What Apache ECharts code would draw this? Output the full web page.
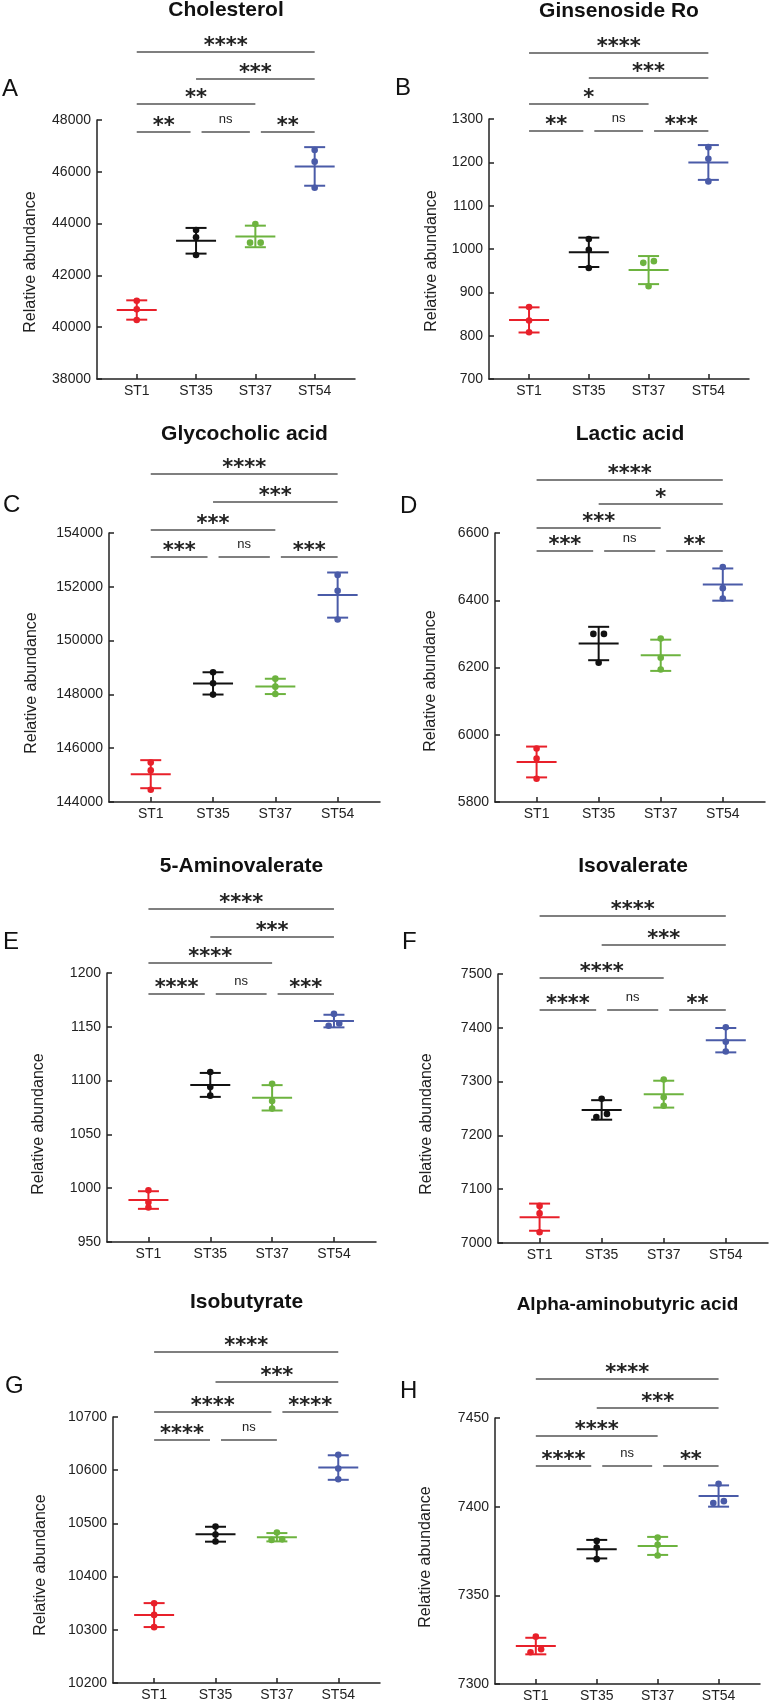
<!DOCTYPE html>
<html><head><meta charset="utf-8">
<script src="https://cdn.jsdelivr.net/npm/echarts@6/dist/echarts.min.js"></script>
<style>html,body{margin:0;padding:0;background:#fff}#c{width:770px;height:1703px}</style>
</head><body><div id="c"></div>
<script>
// ---------------- DATA ----------------
const groups = ['ST1', 'ST35', 'ST37', 'ST54'];
const titles = ['Cholesterol', 'Ginsenoside Ro', 'Glycocholic acid', 'Lactic acid',
                '5-Aminovalerate', 'Isovalerate', 'Isobutyrate', 'Alpha-aminobutyric acid'];
const panelLetters = ['A', 'B', 'C', 'D', 'E', 'F', 'G', 'H'];
const yAxisName = 'Relative abundance';
const yMin  = [38000, 700, 144000, 5800, 950, 7000, 10200, 7300];
const yMax  = [48000, 1300, 154000, 6600, 1200, 7500, 10700, 7450];
const yStep = [2000, 100, 2000, 200, 50, 100, 100, 50];

// three replicates per group: ST1, ST35, ST37, ST54
const cholesterol     = [[41024, 40690, 40278], [43753, 43470, 42788], [43985, 43264, 43264], [46842, 46392, 45387]];
const ginsenosideRo   = [[866, 835, 808], [1023, 998, 956], [972, 968, 914], [1235, 1208, 1156]];
const glycocholicAcid = [[145471, 145174, 144457], [148821, 148413, 147993], [148586, 148289, 148017], [152442, 151849, 150786]];
const lacticAcid      = [[5959, 5929, 5869], [6300, 6300, 6214], [6286, 6229, 6194], [6499, 6436, 6405]];
const aminovalerate   = [[998, 987, 982], [1108, 1094, 1086], [1097, 1081, 1074], [1162, 1151, 1153]];
const isovalerate     = [[7069, 7055, 7020], [7268, 7234, 7240], [7304, 7271, 7255], [7401, 7374, 7356]];
const isobutyrate     = [[10350, 10328, 10305], [10494, 10479, 10466], [10483, 10469, 10470], [10629, 10603, 10583]];
const aminobutyric    = [[7326.7, 7317.9, 7319.6], [7380.7, 7377.0, 7370.4], [7382.6, 7378.5, 7372.5], [7412.9, 7402.0, 7403.1]];
const panelValues = [cholesterol, ginsenosideRo, glycocholicAcid, lacticAcid, aminovalerate, isovalerate, isobutyrate, aminobutyric];

// significance comparisons: [groupFrom, groupTo, row, label]
const sigA = [[1,2,0,'**'],[2,3,0,'ns'],[3,4,0,'**'],[1,3,1,'**'],[2,4,2,'***'],[1,4,3,'****']];
const sigB = [[1,2,0,'**'],[2,3,0,'ns'],[3,4,0,'***'],[1,3,1,'*'],[2,4,2,'***'],[1,4,3,'****']];
const sigC = [[1,2,0,'***'],[2,3,0,'ns'],[3,4,0,'***'],[1,3,1,'***'],[2,4,2,'***'],[1,4,3,'****']];
const sigD = [[1,2,0,'***'],[2,3,0,'ns'],[3,4,0,'**'],[1,3,1,'***'],[2,4,2,'*'],[1,4,3,'****']];
const sigE = [[1,2,0,'****'],[2,3,0,'ns'],[3,4,0,'***'],[1,3,1,'****'],[2,4,2,'***'],[1,4,3,'****']];
const sigF = [[1,2,0,'****'],[2,3,0,'ns'],[3,4,0,'**'],[1,3,1,'****'],[2,4,2,'***'],[1,4,3,'****']];
const sigG = [[1,2,0,'****'],[2,3,0,'ns'],[3,4,1,'****'],[1,3,1,'****'],[2,4,2,'***'],[1,4,3,'****']];
const sigH = [[1,2,0,'****'],[2,3,0,'ns'],[3,4,0,'**'],[1,3,1,'****'],[2,4,2,'***'],[1,4,3,'****']];
const panelSig = [sigA, sigB, sigC, sigD, sigE, sigF, sigG, sigH];

// ---------------- LAYOUT / STYLE ----------------
const FONT = '"Liberation Sans", Arial, Helvetica, sans-serif';
const groupColors = ['#E8202A', '#111111', '#6DB33F', '#4A5BA8'];
const layout = [
  {left: 97,  top: 120,  width: 258, height: 259, titleY: 10,   letterX: 2,   letterY: 89,   nameX: 31,  nameY: 262, rows: [12, -16, -41, -68]},
  {left: 489, top: 119,  width: 260, height: 260, titleY: 11,   letterX: 395, letterY: 88,   nameX: 432, nameY: 261, rows: [12, -15, -41, -66]},
  {left: 109, top: 533,  width: 271, height: 269, titleY: 434,  letterX: 3,   letterY: 505,  nameX: 32,  nameY: 683, rows: [24, -3, -31, -59]},
  {left: 495, top: 533,  width: 270, height: 269, titleY: 434,  letterX: 400, letterY: 506,  nameX: 431, nameY: 681, rows: [18, -5, -29, -53]},
  {left: 107, top: 973,  width: 269, height: 269, titleY: 866,  letterX: 3,   letterY: 942,  nameX: 39,  nameY: 1124, rows: [21, -10, -36, -64]},
  {left: 498, top: 974,  width: 270, height: 269, titleY: 866,  letterX: 402, letterY: 942,  nameX: 427, nameY: 1124, rows: [36, 4, -29, -58]},
  {left: 113, top: 1417, width: 267, height: 266, titleY: 1302, letterX: 5,   letterY: 1386, nameX: 41,  nameY: 1565, rows: [23, -5, -35, -65]},
  {left: 495, top: 1418, width: 265, height: 266, titleY: 1305, letterX: 400, letterY: 1391, nameX: 426, nameY: 1557, rows: [48, 18, -10, -39]}
];
const titleSizes = [21, 21, 21, 21, 21, 21, 21, 19];

function renderGroup(params, api) {
  const c = api.value(0);
  const vals = [api.value(1), api.value(2), api.value(3)];
  const color = groupColors[c - 1];
  const n = vals.length;
  const mean = vals.reduce((a, b) => a + b, 0) / n;
  const sd = Math.sqrt(vals.reduce((a, b) => a + (b - mean) * (b - mean), 0) / (n - 1));
  const pm = api.coord([c, mean]);
  const pt = api.coord([c, mean + sd]);
  const pb = api.coord([c, mean - sd]);
  const st = {stroke: color, lineWidth: 2};
  const children = [
    {type: 'line', shape: {x1: pm[0] - 20, y1: pm[1], x2: pm[0] + 20, y2: pm[1]}, style: st},
    {type: 'line', shape: {x1: pt[0], y1: pt[1], x2: pb[0], y2: pb[1]}, style: st},
    {type: 'line', shape: {x1: pt[0] - 10.5, y1: pt[1], x2: pt[0] + 10.5, y2: pt[1]}, style: st},
    {type: 'line', shape: {x1: pb[0] - 10.5, y1: pb[1], x2: pb[0] + 10.5, y2: pb[1]}, style: st}
  ];
  const py = vals.map(v => api.coord([c, v])[1]);
  vals.forEach((v, i) => {
    let dx = 0;
    for (let j = 0; j < n; j++) {
      if (j !== i && Math.abs(py[i] - py[j]) < 4.5) {
        dx = (v < vals[j] || (v === vals[j] && i < j)) ? -5.3 : 5.3;
      }
    }
    children.push({type: 'circle', shape: {cx: pm[0] + dx, cy: py[i], r: 3.3}, style: {fill: color}});
  });
  return {type: 'group', children};
}

function makeBracketRenderer(sig, rows) {
  return function (params, api) {
    const cur = sig[params.dataIndex];
    const a = cur[0], b = cur[1], row = cur[2], label = cur[3];
    const y = params.coordSys.y + rows[row];
    let x1 = api.coord([a, 0])[0], x2 = api.coord([b, 0])[0];
    if (sig.some(s => s !== cur && s[2] === row && (s[0] === a || s[1] === a))) x1 += 5.5;
    if (sig.some(s => s !== cur && s[2] === row && (s[0] === b || s[1] === b))) x2 -= 5.5;
    const isNs = label === 'ns';
    return {type: 'group', children: [
      {type: 'line', shape: {x1, y1: y, x2, y2: y}, style: {stroke: '#555', lineWidth: 1.3}},
      {type: 'text', style: {
        text: label, x: (x1 + x2) / 2, y: isNs ? y - 12.5 : y - 5,
        textAlign: 'center', textVerticalAlign: 'middle',
        font: isNs ? ('13px ' + FONT) : ('bold 21px "DejaVu Sans", sans-serif'),
        fill: '#222'
      }}
    ]};
  };
}

const grid = [], xAxis = [], yAxis = [], series = [], graphic = [];
panelValues.forEach((vals, k) => {
  const L = layout[k];
  grid.push({left: L.left, top: L.top, width: L.width, height: L.height});
  xAxis.push({
    type: 'value', gridIndex: k, min: 0.33, max: 4.68,
    splitLine: {show: false},
    axisLine: {show: true, lineStyle: {color: '#222', width: 1.5}},
    axisTick: {show: true, inside: true, length: 5, customValues: [1, 2, 3, 4], lineStyle: {color: '#222', width: 1.5}},
    axisLabel: {customValues: [1, 2, 3, 4], formatter: v => groups[Math.round(v) - 1] || '',
                fontSize: 14, color: '#222', margin: 5, fontFamily: FONT}
  });
  yAxis.push({
    type: 'value', gridIndex: k, min: yMin[k], max: yMax[k], interval: yStep[k],
    splitLine: {show: false},
    axisLine: {show: true, lineStyle: {color: '#222', width: 1.5}},
    axisTick: {show: true, inside: true, length: 5, lineStyle: {color: '#222', width: 1.5}},
    axisLabel: {fontSize: 14, color: '#222', margin: 6, fontFamily: FONT, formatter: v => String(v)}
  });
  series.push({
    type: 'custom', xAxisIndex: k, yAxisIndex: k, clip: false, silent: true,
    encode: {x: 0, y: [1, 2, 3]},
    data: vals.map((v, i) => [i + 1, v[0], v[1], v[2]]),
    renderItem: renderGroup, z: 5
  });
  const sig = panelSig[k];
  series.push({
    type: 'custom', xAxisIndex: k, yAxisIndex: k, clip: false, silent: true,
    encode: {x: [0, 1]},
    data: sig.map(s => [s[0], s[1]]),
    renderItem: makeBracketRenderer(sig, L.rows), z: 4
  });
  graphic.push({type: 'text', silent: true, style: {
    text: titles[k], x: L.left + L.width / 2, y: L.titleY, textAlign: 'center', textVerticalAlign: 'middle',
    font: 'bold ' + titleSizes[k] + 'px ' + FONT, fill: '#111'}});
  graphic.push({type: 'text', silent: true, style: {
    text: panelLetters[k], x: L.letterX, y: L.letterY, textAlign: 'left', textVerticalAlign: 'middle',
    font: '24px ' + FONT, fill: '#111'}});
  graphic.push({type: 'text', silent: true, x: L.nameX, y: L.nameY, rotation: Math.PI / 2, style: {
    text: yAxisName, x: 0, y: 0, textAlign: 'center', textVerticalAlign: 'middle',
    font: '16px ' + FONT, fill: '#222'}});
});

const chart = echarts.init(document.getElementById('c'), null, {renderer: 'canvas'});
chart.setOption({animation: false, backgroundColor: '#fff', grid, xAxis, yAxis, series, graphic});
</script>
</body></html>
